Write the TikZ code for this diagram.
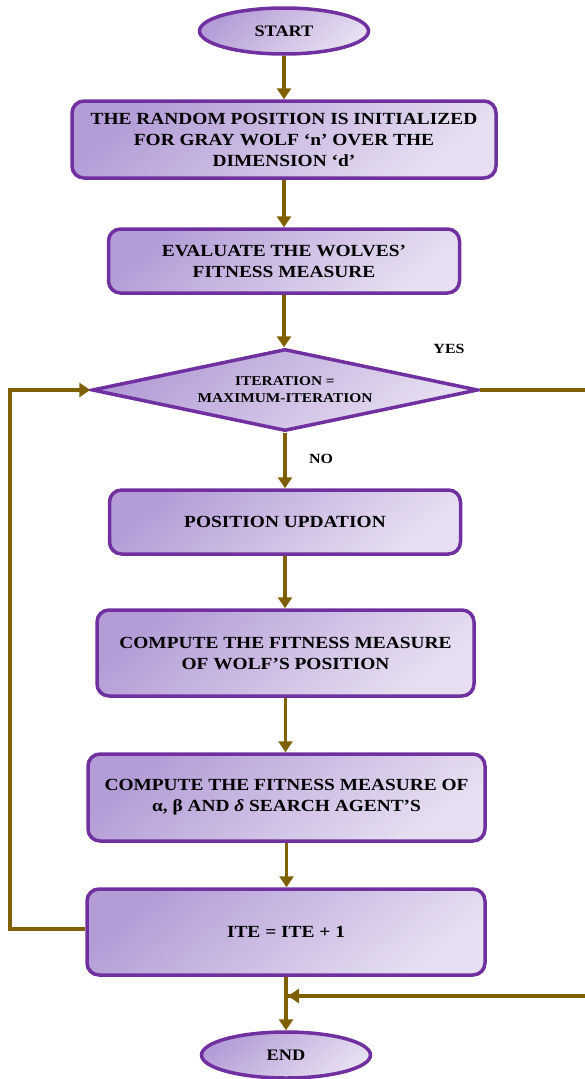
\documentclass[tikz,border=0pt]{standalone}
\usepackage{fontspec}
\setmainfont{Liberation Serif}[FakeStretch=1.14]
\usetikzlibrary{shapes.geometric,arrows.meta}
\definecolor{pborder}{HTML}{7030A0}
\definecolor{arrowc}{HTML}{7F6000}
\definecolor{fillA}{HTML}{B49DD7}
\definecolor{fillB}{HTML}{E7DFF1}
\begin{document}
\begin{tikzpicture}[x=1pt,y=-1pt,
  shadefill/.style={top color=fillA, bottom color=fillB, shading angle=40},
  proc/.style={draw=pborder, line width=3.5pt, rounded corners=12pt, shadefill,
    align=center, inner sep=0pt, font=\fontsize{17}{21}\selectfont\bfseries},
  term/.style={ellipse, draw=pborder, line width=3.5pt, shadefill, inner sep=0pt,
    minimum width=169pt, minimum height=46pt, font=\fontsize{16}{20}\selectfont\bfseries},
  decis/.style={diamond, aspect=4.5, draw=pborder, line width=3.5pt, shadefill, inner sep=0pt,
    minimum width=386pt, minimum height=82pt, align=center, font=\fontsize{13.5}{17}\selectfont\bfseries},
  arr/.style={draw=arrowc, line width=3.8pt, -{Triangle[length=11pt,width=14pt]}},
  seg/.style={draw=arrowc, line width=3.8pt},
  lbl/.style={font=\fontsize{14}{16}\selectfont\bfseries, inner sep=0pt}]
\useasboundingbox (0,0) rectangle (585,1079);
\node[term] (start) at (284,31) {START};
\node[proc, minimum width=424pt, minimum height=77pt] (b1) at (284,139.5)
  {THE RANDOM POSITION IS INITIALIZED\\FOR GRAY WOLF ‘n’ OVER THE\\DIMENSION ‘d’};
\node[proc, minimum width=351pt, minimum height=64pt] (b2) at (284,261)
  {EVALUATE THE WOLVES’\\FITNESS MEASURE};
\node[decis] (dec) at (285,390) {ITERATION =\\MAXIMUM-ITERATION};
\node[proc, minimum width=351pt, minimum height=64pt] (b3) at (285,522) {POSITION UPDATION};
\node[proc, minimum width=377pt, minimum height=86pt] (b4) at (285.5,653)
  {COMPUTE THE FITNESS MEASURE\\OF WOLF’S POSITION};
\node[proc, minimum width=397pt, minimum height=87pt] (b5) at (286.5,797.5)
  {COMPUTE THE FITNESS MEASURE OF\\α, β AND {\itshape δ} SEARCH AGENT’S};
\node[proc, minimum width=398pt, minimum height=86pt] (b6) at (286,932) {ITE = ITE + 1};
\node[term] (end) at (286,1055) {END};
\node[lbl] (yes) at (449,349) {YES};
\node[lbl] (no) at (321,459) {NO};
\coordinate (l1) at (10,929);
\coordinate (r2) at (592,996);
\coordinate (r3) at (286,996);
\draw[arr] (start.south) -- (start.south |- b1.north);
\draw[arr] (b1.south -| start.south) -- (start.south |- b2.north);
\draw[arr] (b2.south -| start.south) -- (start.south |- dec.north);
\draw[arr] (dec.south) -- (dec.south |- b3.north);
\draw[arr] (b3.south) -- (b3.south |- b4.north);
\draw[arr] (b4.south) -- (b4.south |- b5.north);
\draw[arr] (b5.south) -- (b5.south |- b6.north);
\draw[arr] (b6.south) -- (end.north);
\draw[arr] (b6.west |- l1) -- (l1) -- (l1 |- dec.west) -- (dec.west);
\draw[seg] (dec.east) -- (dec.east -| r2) -- (r2) -- (r2 -| b6.south);
\draw[arr] (r2) -- ([xshift=2pt]r3);
\end{tikzpicture}
\end{document}
